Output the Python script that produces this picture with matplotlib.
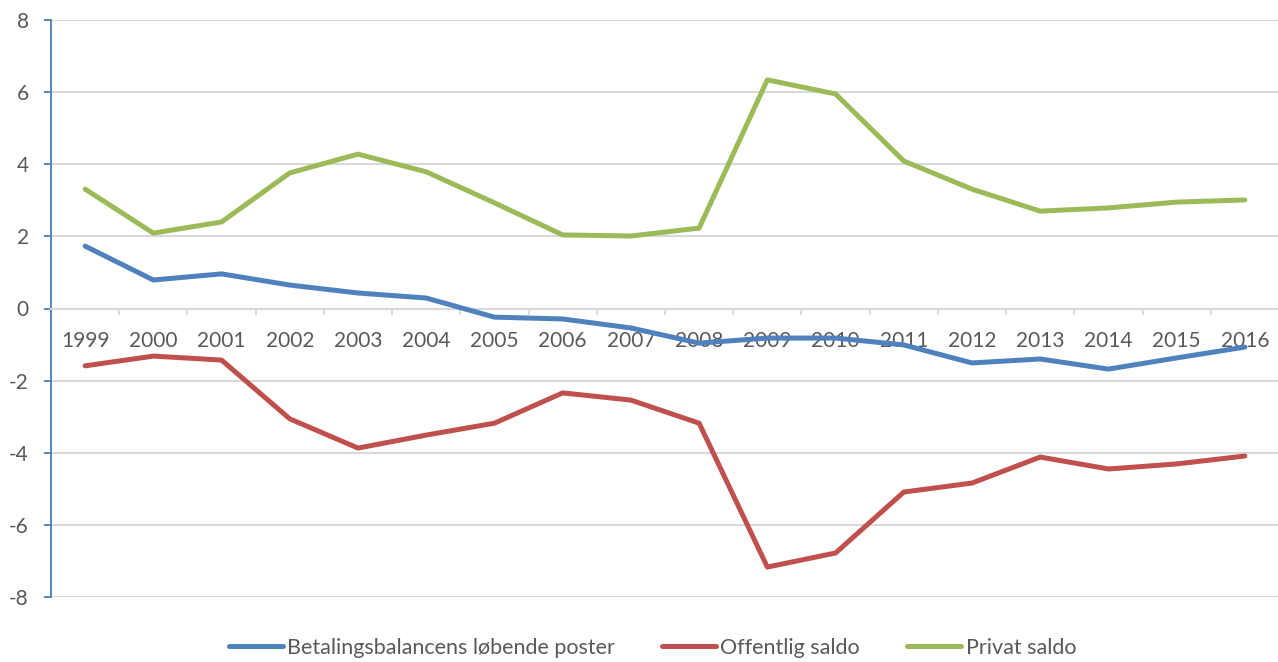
import matplotlib
matplotlib.use("Agg")
import matplotlib.pyplot as plt
import numpy as np

years = ["1999", "2000", "2001", "2002", "2003", "2004", "2005", "2006", "2007",
         "2008", "2009", "2010", "2011", "2012", "2013", "2014", "2015", "2016"]
betalingsbalance = [1.73, 0.79, 0.96, 0.65, 0.43, 0.29, -0.24, -0.29, -0.54,
                    -0.96, -0.82, -0.82, -1.01, -1.51, -1.40, -1.68, -1.37, -1.07]
offentlig = [-1.59, -1.32, -1.43, -3.06, -3.87, -3.51, -3.18, -2.34, -2.54,
             -3.18, -7.17, -6.78, -5.09, -4.84, -4.12, -4.45, -4.31, -4.09]
privat = [3.31, 2.09, 2.40, 3.76, 4.28, 3.79, 2.93, 2.04, 2.01,
          2.23, 6.34, 5.95, 4.09, 3.31, 2.70, 2.79, 2.95, 3.01]
series_names = ["Betalingsbalancens løbende poster", "Offentlig saldo", "Privat saldo"]
colors = ["#4f81bd", "#c0504d", "#9bbb59"]
yticks = [-8, -6, -4, -2, 0, 2, 4, 6, 8]

plt.rcParams['font.family'] = ['Lato', 'DejaVu Sans']
txt = "#595959"
grid_c = "#d9d9d9"

fig = plt.figure(figsize=(12.78, 6.62), dpi=100)
W, H = 1278, 662
ax = fig.add_axes([51 / W, 1 - 597 / H, (1279 - 51) / W, (597 - 20) / H])

x = np.arange(len(years))
for vals, name, c in zip([betalingsbalance, offentlig, privat], series_names, colors):
    ax.plot(x, vals, color=c, lw=3.6, label=name, solid_capstyle='round',
            solid_joinstyle='round', zorder=3)

ax.set_xlim(-0.5, len(years) - 0.5)
ax.set_ylim(-8, 8)
ax.set_yticks(yticks)
ax.set_yticklabels([str(v) for v in yticks])
ax.yaxis.grid(True, color=grid_c, lw=1.5, zorder=0)
ax.set_axisbelow(True)

for s in ["top", "right"]:
    ax.spines[s].set_visible(False)
ax.spines["left"].set_color("#4a7ebb")
ax.spines["left"].set_linewidth(1.3)
ax.spines["bottom"].set_position(("data", 0))
ax.spines["bottom"].set_color(grid_c)
ax.spines["bottom"].set_linewidth(1.5)

ax.tick_params(axis="y", direction="out", length=5, width=1.3, color="#4a7ebb",
               labelsize=15, labelcolor=txt, pad=11)
ax.set_xticks(x)
ax.set_xticklabels(years)
ax.set_xticks(np.arange(-0.5, len(years), 1), minor=True)
ax.tick_params(axis="x", which="major", length=0, labelsize=15, labelcolor=txt, pad=16)
ax.tick_params(axis="x", which="minor", direction="out", length=4.5, width=1.3, color=grid_c)

fig.legend(loc="center", bbox_to_anchor=(0.5106, 1 - 648 / H), ncol=3, frameon=False,
           fontsize=15.5, labelcolor=txt, handlelength=2.5, handletextpad=0.2,
           columnspacing=2.2)

fig.savefig("out.png", dpi=100)
